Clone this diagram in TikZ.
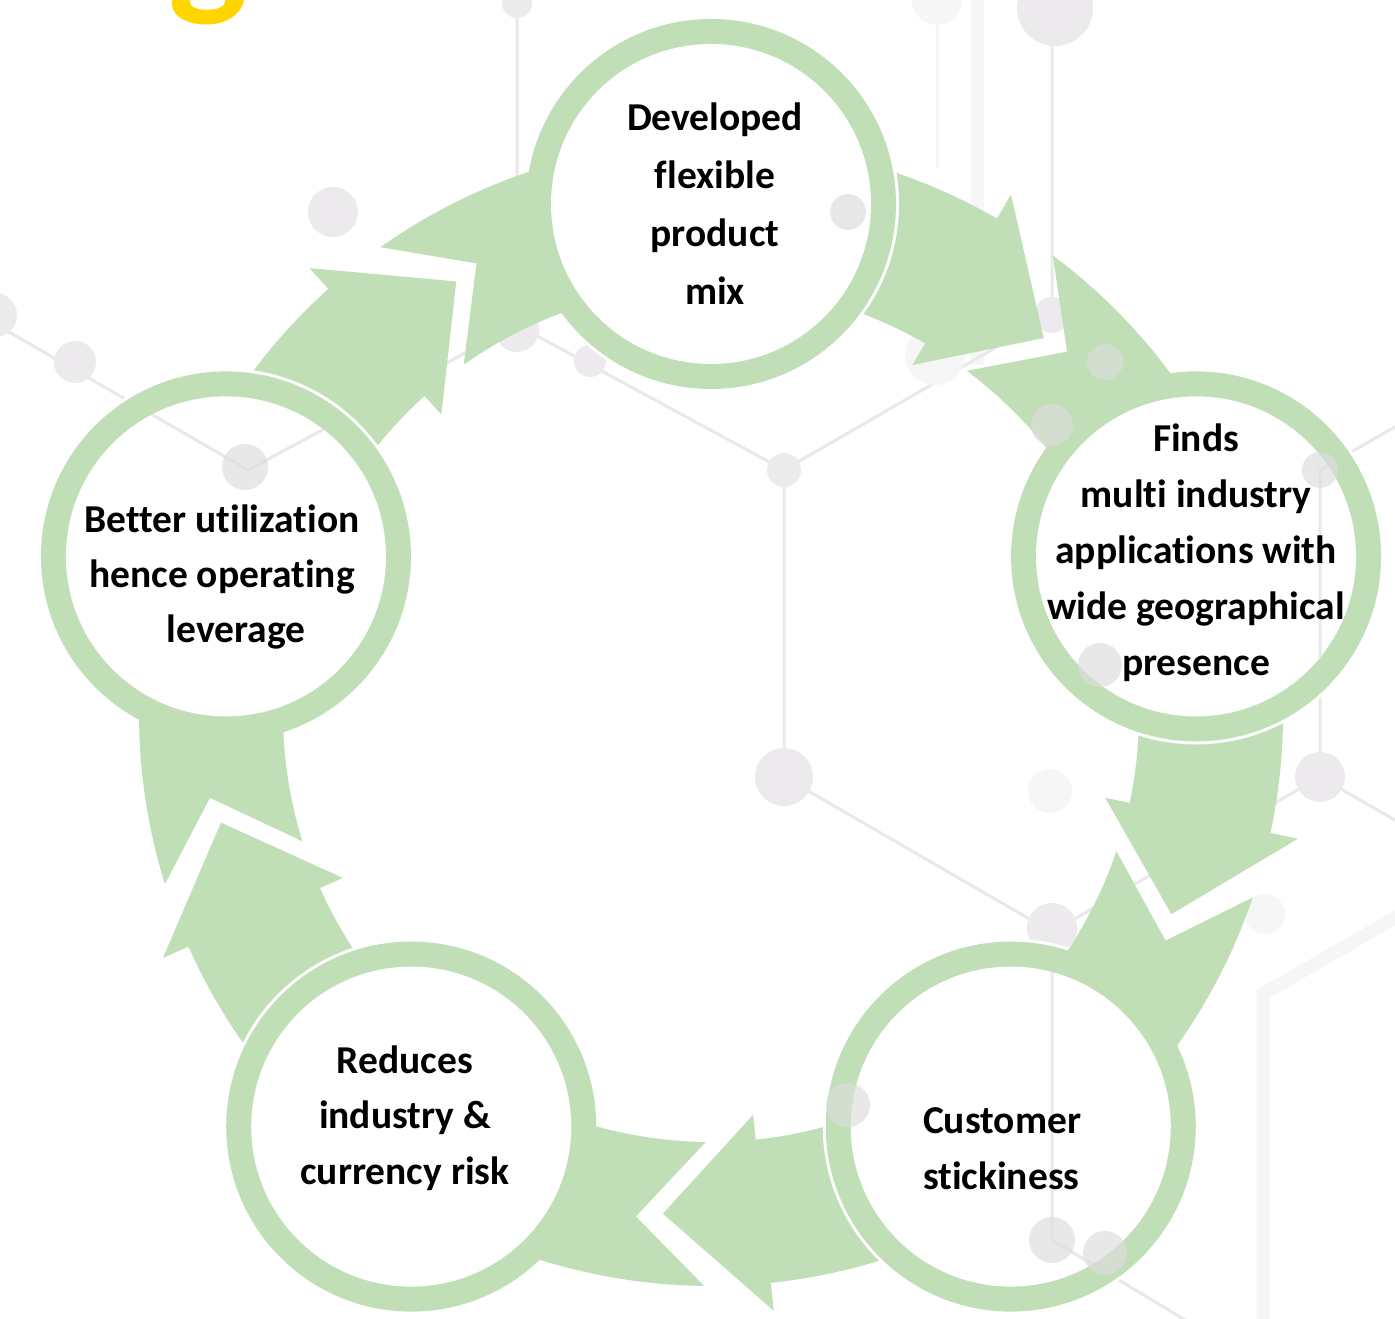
\documentclass[tikz,border=0pt]{standalone}
\usepackage{fontspec}
\setmainfont[Ligatures=NoCommon]{Carlito}
\usetikzlibrary{calc}
\definecolor{ringgreen}{HTML}{C1DFB7}
\definecolor{netgray}{HTML}{EAE8EA}
\definecolor{dotgray}{HTML}{ECEAEC}
\definecolor{overdot}{HTML}{DEDCDE}
\definecolor{faintgray}{HTML}{F6F6F6}
\definecolor{titleyellow}{HTML}{FFD500}
\newcommand{\drawnetwork}{%
  \draw[faintline] (977,1330) -- (977,954);
  \draw[netline, draw=faintgray] (937,1330) -- (937,1150);
  \draw[faintline] (1263,-5) -- (1263,325) -- (1400,404);
  \draw[netline] (517,1330) -- (517,994) -- (784,849) -- (1052,1004) -- (1052,1330);
  \draw[netline] (784,849) -- (784,542) -- (1052,387) -- (1320,542) -- (1400,496);
  \draw[netline] (1320,542) -- (1320,849) -- (1400,895);
  \draw[netline] (1052,387) -- (1052,79) -- (1192,-5);
  \draw[netline] (517,994) -- (248,849) -- (-10,998);
  \foreach \x/\y/\r in {517/989/22,1052/1004/18,1052/391/25,-5/1004/22,75/957/21,333/1107/25,590/958/16,784/849/17,784/542/29,1320/542/25,1055/1311/38,517/1316/15}{
    \fill[dotgray] (\x,\y) circle (\r);
  }
  \foreach \x/\y/\r in {937/1319/25,935/964/30,1050/528/22,1265/405/20}{
    \fill[faintgray] (\x,\y) circle (\r);
  }
}
\begin{document}
\begin{tikzpicture}[x=1pt,y=1pt,
  band/.style={fill=ringgreen},
  netline/.style={draw=netgray, line width=3pt},
  faintline/.style={draw=faintgray, line width=13pt},
  overdotstyle/.style={fill=overdot, fill opacity=0.65},
  lbl/.style={align=center, text=black, inner sep=0pt},
  ]
\useasboundingbox (0,0) rectangle (1395,1319);
\fill[white] (0,0) rectangle (1395,1319);
\coordinate (C) at (711,605);
\coordinate (c1) at ($(C)+(90:510)$);
\coordinate (c2) at ($(C)+(18:510)$);
\coordinate (c3) at ($(C)+(-54:510)$);
\coordinate (c4) at ($(C)+(-126:510)$);
\coordinate (c5) at ($(C)+(162:510)$);

% background network
\drawnetwork

% arrows (shaft + head) leaving each circle clockwise
\foreach \t in {90,18,-54,-126,162}{
  \fill[band] ($(C)+(\t:572)$) arc[start angle=\t, end angle=\t-30, radius=572]
     -- ($(C)+({\t-30}:600)$) -- ($(C)+({\t-41.5}:502)$) -- ($(C)+({\t-30}:403)$)
     -- ($(C)+({\t-30}:428)$) arc[start angle=\t-30, end angle=\t, radius=428] -- cycle;
}
% thin white gaps round circles
\foreach \c in {c1,c2,c3,c4,c5}{ \fill[white] (\c) circle (188); }
% notched tails entering each circle
\foreach \t in {90,18,-54,-126,162}{
  \fill[band] ($(C)+({\t-36.7}:572)$) arc[start angle=\t-36.7, end angle=\t-72, radius=572]
     -- ($(C)+({\t-72}:428)$) arc[start angle=\t-72, end angle=\t-36.7, radius=428]
     -- ($(C)+({\t-44.5}:508)$) -- cycle;
}
% rings
\foreach \c in {c1,c2,c3,c4,c5}{
  \fill[ringgreen] (\c) circle (185);
  \fill[white] (\c) circle (160);
}
% network visible inside the rings
\begin{scope}
  \clip (c1) circle (160) (c2) circle (160) (c3) circle (160) (c4) circle (160) (c5) circle (160);
  \drawnetwork
\end{scope}
% dots lying over the shapes
\foreach \x/\y/\r in {848/1107/18,245/852/23,1105/957/18,1052/894/21,848/214/22,1105/66/22,1052/79/23,1320/849/18}{
  \fill[overdotstyle] (\x,\y) circle (\r);
}

% labels
\node[lbl, font=\bfseries\fontsize{39.5}{58}\selectfont] (t1) at (715,1115) {Developed\\flexible\\product\\mix};
\node[lbl, font=\bfseries\fontsize{39.5}{56}\selectfont] (t2) at (1196,766) {Finds\\multi industry\\applications with\\wide geographical\\presence};
\node[lbl, align=left, font=\bfseries\fontsize{39.5}{56}\selectfont] (t3) at (1002,170) {Customer\\stickiness};
\node[lbl, font=\bfseries\fontsize{39.5}{55.5}\selectfont] (t4) at (405,201) {Reduces\\industry \&\\currency risk};
\node[lbl, font=\bfseries\fontsize{39.5}{55}\selectfont] (t5) at (222,742) {Better utilization\\hence operating\\\hspace{28pt}leverage};
\fill[overdotstyle] (1100,654) circle (22);

% title cut by the top edge
\begin{scope}
  \clip (0,0) rectangle (1395,1319);
  \node[anchor=base west, inner sep=0pt, text=titleyellow, font=\bfseries\fontsize{168}{168}\selectfont] (title) at (-412,1322) {Advantages of};
\end{scope}
\end{tikzpicture}
\end{document}
